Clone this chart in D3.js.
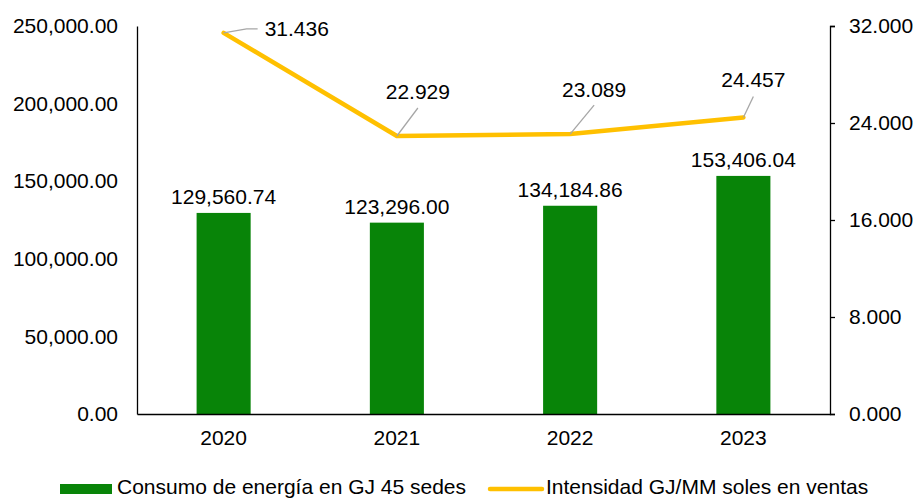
<!DOCTYPE html>
<html>
<head>
<meta charset="utf-8">
<script src="https://cdn.jsdelivr.net/npm/d3@7"></script>
<style>
  body { margin: 0; background: #fff; }
  svg text { font-family: "Liberation Sans", Arial, sans-serif; fill: #000; }
</style>
</head>
<body>
<div class="chart"></div>
<script>
var years = ["2020", "2021", "2022", "2023"];
var consumo = [129560.74, 123296.00, 134184.86, 153406.04];
var intensidad = [31.436, 22.929, 23.089, 24.457];
var leftTicks = [0, 50000, 100000, 150000, 200000, 250000];
var rightTicks = [0, 8, 16, 24, 32];
var seriesNames = ["Consumo de energía en GJ 45 sedes", "Intensidad GJ/MM soles en ventas"];

var svgW = 917, svgH = 498;
var margin = { top: 26, right: 87, bottom: 84, left: 137 };
var w = svgW - margin.left - margin.right;
var h = svgH - margin.top - margin.bottom;

var green = "#088408";
var gold = "#FFC000";
var fs = "21px";

var svg = d3.select(".chart").append("svg")
    .attr("width", svgW)
    .attr("height", svgH);

var chrt = svg.append("g")
    .attr("transform", "translate(" + margin.left + "," + margin.top + ")");

var xS = d3.scaleBand().domain(years).range([0, w]).paddingInner(0.688).paddingOuter(0.344);
var yL = d3.scaleLinear().domain([0, 250000]).range([h, 0]);
var yR = d3.scaleLinear().domain([0, 32]).range([h, 0]);

var fmtL = d3.format(",.2f");
var fmtR = d3.format(".3f");

// bars
chrt.selectAll(".bar")
    .data(consumo)
    .enter()
    .append("rect")
    .attr("class", "bar")
    .attr("x", function(d, i) { return xS(years[i]); })
    .attr("y", function(d) { return yL(d); })
    .attr("width", xS.bandwidth())
    .attr("height", function(d) { return h - yL(d); })
    .attr("fill", green);

chrt.selectAll(".barlab")
    .data(consumo)
    .enter()
    .append("text")
    .attr("class", "barlab")
    .attr("x", function(d, i) { return xS(years[i]) + xS.bandwidth() / 2; })
    .attr("y", function(d) { return yL(d) - 9; })
    .attr("text-anchor", "middle")
    .style("font-size", fs)
    .text(function(d) { return fmtL(d); });

// left axis
var lAxis = d3.axisLeft(yL).tickValues(leftTicks).tickFormat(fmtL).tickSize(0).tickPadding(19);
var gL = chrt.append("g").call(lAxis);
gL.select(".domain").attr("stroke", "#000").attr("stroke-width", 1.3);
gL.selectAll("text").style("font-size", fs).style("font-family", "Liberation Sans, Arial, sans-serif");

// right axis
var rAxis = d3.axisRight(yR).tickValues(rightTicks).tickFormat(fmtR).tickSize(5).tickSizeOuter(5).tickPadding(14);
var gR = chrt.append("g").attr("transform", "translate(" + w + ",0)").call(rAxis);
gR.select(".domain").attr("stroke", "#000").attr("stroke-width", 1.3);
gR.selectAll(".tick line").attr("stroke", "#000").attr("stroke-width", 1.3);
gR.selectAll("text").style("font-size", fs).style("font-family", "Liberation Sans, Arial, sans-serif");

// bottom axis
var bAxis = d3.axisBottom(xS).tickSize(0).tickPadding(16);
var gB = chrt.append("g").attr("transform", "translate(0," + h + ")").call(bAxis);
gB.select(".domain").attr("stroke", "#000").attr("stroke-width", 1.3);
gB.selectAll("text").style("font-size", fs).style("font-family", "Liberation Sans, Arial, sans-serif");

// line
var px = function(d, i) { return xS(years[i]) + xS.bandwidth() / 2; };
var line = d3.line().x(px).y(function(d) { return yR(d); });
chrt.append("path")
    .datum(intensidad)
    .attr("d", line)
    .attr("fill", "none")
    .attr("stroke", gold)
    .attr("stroke-width", 4.5)
    .attr("stroke-linecap", "round")
    .attr("stroke-linejoin", "round");

// line labels with leader lines (offsets relative to the point)
var leaders = [
    { pts: [[0, 0], [23, -4], [34, -4]], lx: 41, ly: 3, anchor: "start" },
    { pts: [[0, 0], [21, -28]], lx: 21, ly: -37, anchor: "middle" },
    { pts: [[0, 0], [24, -29]], lx: 24, ly: -37, anchor: "middle" },
    { pts: [[0, 0], [10, -21]], lx: 10, ly: -30, anchor: "middle" }
];

intensidad.forEach(function(d, i) {
    var x0 = px(d, i), y0 = yR(d);
    var L = leaders[i];
    chrt.append("path")
        .attr("d", d3.line()(L.pts.map(function(p) { return [x0 + p[0], y0 + p[1]]; })))
        .attr("fill", "none")
        .attr("stroke", "#a6a6a6")
        .attr("stroke-width", 1.3);
    chrt.append("text")
        .attr("x", x0 + L.lx)
        .attr("y", y0 + L.ly)
        .attr("text-anchor", L.anchor)
        .style("font-size", fs)
        .text(fmtR(d));
});

// legend
var leg = svg.append("g");
leg.append("rect")
    .attr("x", 60).attr("y", 484).attr("width", 52).attr("height", 10)
    .attr("fill", green);
leg.append("text")
    .attr("x", 117).attr("y", 494)
    .style("font-size", fs)
    .text(seriesNames[0]);
leg.append("line")
    .attr("x1", 490).attr("x2", 542).attr("y1", 489).attr("y2", 489)
    .attr("stroke", gold).attr("stroke-width", 4.5).attr("stroke-linecap", "round");
leg.append("text")
    .attr("x", 546).attr("y", 494)
    .style("font-size", fs)
    .text(seriesNames[1]);
</script>
</body>
</html>
